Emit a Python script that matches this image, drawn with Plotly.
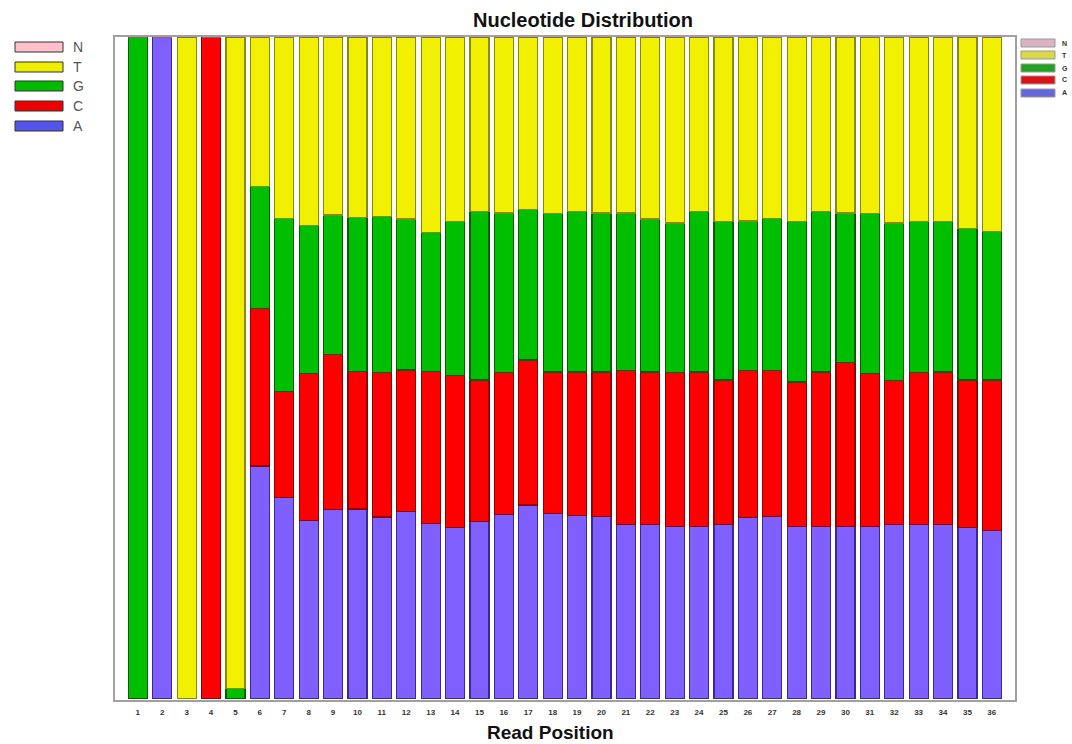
import plotly.graph_objects as go

positions = list(range(1, 37))
A = [0, 100, 0, 0, 0, 35.2, 30.4, 27.0, 28.6, 28.7, 27.5, 28.3, 26.5, 25.9, 26.8, 27.9, 29.3, 28.0,
     27.7, 27.6, 26.4, 26.4, 26.1, 26.1, 26.3, 27.4, 27.6, 26.1, 26.1, 26.1, 26.1, 26.3, 26.4, 26.4, 25.9, 25.4]
C = [0, 0, 0, 100, 0, 23.8, 16.1, 22.2, 23.4, 20.8, 21.8, 21.4, 23.0, 23.0, 21.4, 21.4, 21.9, 21.4,
     21.7, 21.8, 23.2, 23.0, 23.2, 23.3, 21.9, 22.2, 22.0, 21.8, 23.3, 24.7, 23.1, 21.8, 22.9, 23.0, 22.3, 22.8]
G = [100, 0, 0, 0, 1.6, 18.4, 26.1, 22.3, 21.1, 23.2, 23.6, 22.8, 21.0, 23.2, 25.4, 24.1, 22.7, 23.9,
     24.2, 24.0, 23.8, 23.1, 22.6, 24.2, 23.9, 22.6, 23.0, 24.2, 24.2, 22.6, 24.1, 23.8, 22.8, 22.7, 22.9, 22.4]
T = [0, 0, 100, 0, 98.4, 22.6, 27.4, 28.5, 26.9, 27.3, 27.1, 27.5, 29.5, 27.9, 26.4, 26.6, 26.1, 26.7,
     26.4, 26.6, 26.6, 27.5, 28.1, 26.4, 27.9, 27.8, 27.4, 27.9, 26.4, 26.6, 26.7, 28.1, 27.9, 27.9, 28.9, 29.4]
N = [0] * 36

legend_labels = ["N", "T", "G", "C", "A"]
legend_colors = ["#FFC0CB", "#EEEE00", "#00BB00", "#EE0000", "#5555EE"]
right_legend_colors = ["#D9B3C3", "#D8D84A", "#22A022", "#DD1111", "#6666DD"]

series = [
    ("A", A, "#7F60FF", "#3A2A90"),
    ("C", C, "#FF0000", "#900000"),
    ("G", G, "#00BE00", "#006000"),
    ("T", T, "#F0F000", "#8A8A00"),
    ("N", N, "#FFC0CB", "#906070"),
]

fig = go.Figure()
for name, vals, col, lc in series:
    fig.add_trace(go.Bar(x=positions, y=vals, name=name, marker=dict(color=col, line=dict(color=lc, width=1.2)),
                         showlegend=False))

W, H = 1072, 744
L, R, TOP, BOT = 115, 1015, 37, 699


def px(x):
    return (x - L) / (R - L)


def py(y):
    return (BOT - y) / (BOT - TOP)


shapes = []
annotations = []
# frame
shapes.append(dict(type="rect", xref="paper", yref="paper", x0=px(114), x1=px(1016), y0=py(701), y1=py(36),
                   line=dict(color="#A0A0A0", width=2), fillcolor="rgba(0,0,0,0)", layer="above"))

# left legend
ys = [47, 67, 86, 106, 126]
for lab, col, yc in zip(legend_labels, legend_colors, ys):
    shapes.append(dict(type="rect", xref="paper", yref="paper", x0=px(15), x1=px(63), y0=py(yc + 5), y1=py(yc - 5),
                       line=dict(color="#333333", width=1), fillcolor=col))
    annotations.append(dict(text=lab, xref="paper", yref="paper", x=px(71), y=py(yc), xanchor="left", yanchor="middle",
                            showarrow=False, font=dict(family="Arial", size=14, color="#555555")))

# right legend
ys2 = [43, 55, 68, 80, 93]
for lab, col, yc in zip(legend_labels, right_legend_colors, ys2):
    shapes.append(dict(type="rect", xref="paper", yref="paper", x0=px(1021), x1=px(1055), y0=py(yc + 4), y1=py(yc - 4),
                       line=dict(color="#999999", width=1), fillcolor=col))
    annotations.append(dict(text="<b>" + lab + "</b>", xref="paper", yref="paper", x=px(1060), y=py(yc), xanchor="left",
                            yanchor="middle", showarrow=False, font=dict(family="Arial", size=7, color="#333333")))

annotations.append(dict(text="<b>Nucleotide Distribution</b>", xref="paper", yref="paper", x=px(583), y=py(20),
                        xanchor="center", yanchor="middle", showarrow=False,
                        font=dict(family="Arial", size=20, color="#111111")))
annotations.append(dict(text="<b>Read Position</b>", xref="paper", yref="paper", x=px(550), y=py(733),
                        xanchor="center", yanchor="middle", showarrow=False,
                        font=dict(family="Arial", size=19, color="#111111")))

fig.update_layout(
    width=W, height=H,
    margin=dict(l=L, r=W - R, t=TOP, b=H - BOT, pad=0),
    barmode="stack", bargap=0.22,
    paper_bgcolor="white", plot_bgcolor="white",
    shapes=shapes, annotations=annotations,
    xaxis=dict(range=[0.064, 36.95], tickmode="array", tickvals=positions, ticktext=[f"<b>{p}</b>" for p in positions],
               tickfont=dict(family="Arial", size=8, color="#333333"), showgrid=False, zeroline=False,
               ticks="outside", ticklen=5, tickcolor="rgba(0,0,0,0)", showline=False),
    yaxis=dict(range=[0, 100], visible=False, showgrid=False, zeroline=False),
)

fig.write_html("out.html")
